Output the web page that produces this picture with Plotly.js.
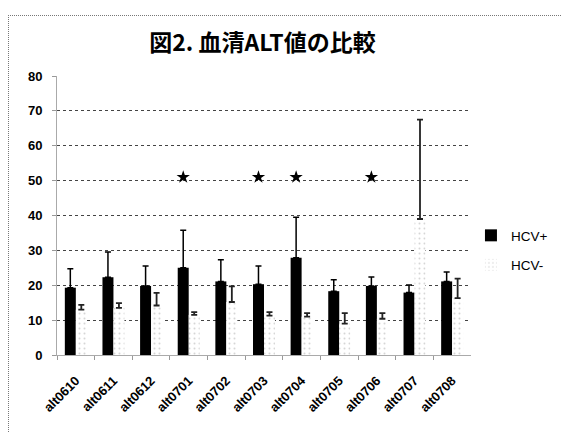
<!DOCTYPE html>
<html>
<head>
<meta charset="utf-8">
<script src="https://cdn.plot.ly/plotly-3.0.1.min.js"></script>
<style>
  html, body { margin: 0; padding: 0; background: #fff; }
  #wrap { position: relative; width: 562px; height: 432px; overflow: hidden; }
  #frame { position: absolute; left: 8px; top: 15px; width: 600px; height: 500px;
           border-left: 1px dotted #777; border-top: 1px dotted #777; pointer-events: none; }
  #chart { position: absolute; left: 0; top: 0; width: 562px; height: 432px; }
</style>
</head>
<body>
<div id="wrap">
  <div id="chart"></div>
  <div id="frame"></div>
</div>
<script>
// Monthly serum ALT averages, HCV-positive vs HCV-negative groups
const months = ['alt0610','alt0611','alt0612','alt0701','alt0702','alt0703',
                'alt0704','alt0705','alt0706','alt0707','alt0708'];

const hcvPos    = [19.3, 22.3, 19.8, 25.0, 21.1, 20.3, 27.9, 18.3, 19.8, 17.9, 21.1];
const hcvPosErr = [5.4, 7.2, 5.7, 10.8, 6.2, 5.2, 11.6, 3.3, 2.6, 2.2, 2.7];

const hcvNeg    = [13.0, 13.5, 14.2, 11.5, 15.2, 11.3, 11.0, 9.0, 10.4, 39.0, 16.3];
const hcvNegErr = [1.4, 1.4, 3.6, 0.8, 4.5, 1.0, 1.0, 3.0, 1.6, 28.5, 5.6];

// months flagged as significant
const starMonths = ['alt0701','alt0703','alt0704','alt0706'];
const starLevel  = [51, 51, 51, 51];

const yTicks = [0, 10, 20, 30, 40, 50, 60, 70, 80];

const baseFont = 'Liberation Sans, Arial, sans-serif';

const traces = [
  {
    type: 'bar', name: 'HCV+', x: months, y: hcvPos,
    offsetgroup: 'pos', legendgroup: 'pos',
    marker: { color: '#000000', line: { width: 0 } },
    error_y: { type: 'data', array: hcvPosErr, symmetric: false, arrayminus: hcvPos.map(() => 0),
               color: '#000000', thickness: 1.5, width: 3 }
  },
  {
    type: 'bar', name: 'HCV-', x: months, y: hcvNeg,
    offsetgroup: 'neg', legendgroup: 'neg',
    marker: { color: '#ffffff', line: { width: 0 },
              pattern: { shape: '.', fgcolor: '#d6d6d6', bgcolor: '#ffffff', size: 5, solidity: 0.12 } },
    error_y: { type: 'data', array: hcvNegErr, symmetric: false, arrayminus: hcvNeg.map(() => 0),
               color: '#222222', thickness: 1.8, width: 3 }
  },
  {
    type: 'scatter', mode: 'markers', x: starMonths, y: starLevel,
    offsetgroup: 'pos', showlegend: false, hoverinfo: 'skip',
    marker: { symbol: 'star', size: 10, color: '#000000' }
  }
];

const layout = {
  width: 562, height: 432,
  margin: { l: 57, r: 90, t: 76, b: 77 },
  paper_bgcolor: 'rgba(0,0,0,0)', plot_bgcolor: '#ffffff',
  font: { family: baseFont, size: 12, color: '#000' },
  title: {
    text: '<b>図2. 血清ALT値の比較</b>',
    font: { family: 'Noto Sans CJK JP, sans-serif', size: 23, color: '#000' },
    x: 0.467, xref: 'container', xanchor: 'center',
    y: 0.90, yref: 'container', yanchor: 'middle'
  },
  barmode: 'group', bargap: 0.416, bargroupgap: 0,
  scattermode: 'group', scattergap: 0.416,
  showlegend: true,
  legend: {
    x: 0.838, xref: 'container', xanchor: 'left',
    y: 0.42, yref: 'container', yanchor: 'middle',
    font: { family: baseFont, size: 13.5, color: '#000' },
    traceorder: 'grouped', tracegroupgap: 9, itemwidth: 30,
    bgcolor: 'rgba(0,0,0,0)'
  },
  xaxis: {
    type: 'category', categoryorder: 'array', categoryarray: months,
    tickangle: -45, automargin: false, ticklabelstandoff: 12,
    tickfont: { family: baseFont, size: 13, color: '#000', weight: 'bold' },
    ticks: 'outside', tickson: 'boundaries', ticklen: 4, tickcolor: '#999',
    showline: true, linecolor: '#aaa', linewidth: 1,
    showgrid: false, zeroline: false
  },
  yaxis: {
    range: [0, 80], tickvals: yTicks, ticktext: yTicks.map(String),
    tickfont: { family: baseFont, size: 13, color: '#000', weight: 'bold' },
    ticks: 'outside', ticklen: 4, tickcolor: '#999', ticklabelstandoff: 7,
    showline: true, linecolor: '#aaa', linewidth: 1,
    showgrid: true, gridcolor: '#444', griddash: 'dot', gridwidth: 1,
    zeroline: false
  }
};

Plotly.newPlot('chart', traces, layout, { displayModeBar: false, staticPlot: true });
</script>
</body>
</html>
